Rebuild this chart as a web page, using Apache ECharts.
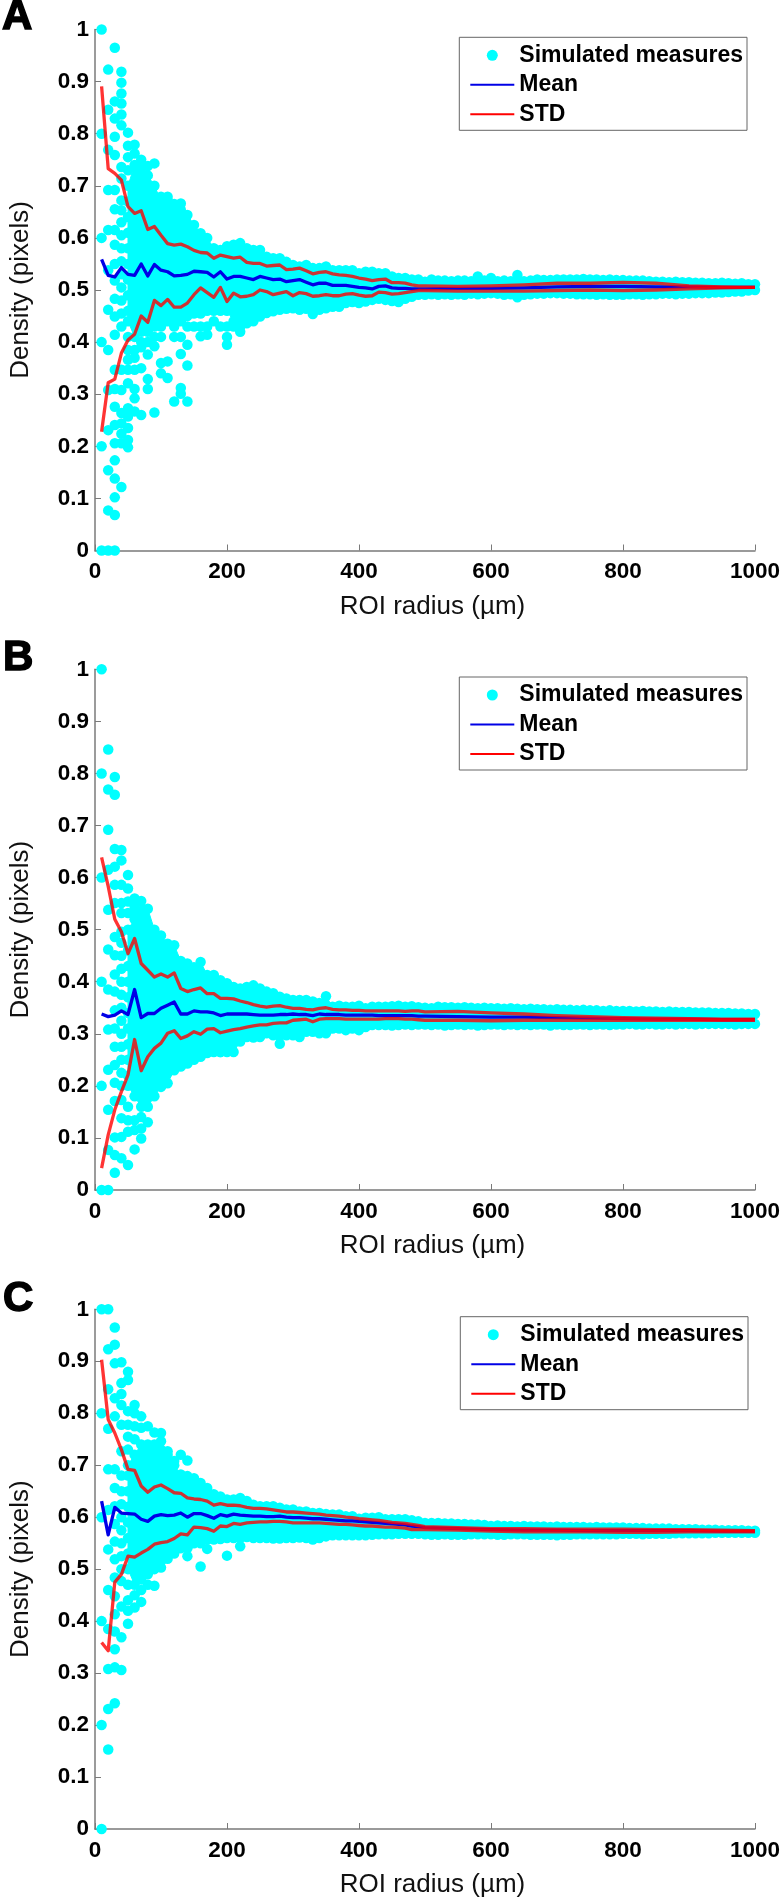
<!DOCTYPE html>
<html><head><meta charset="utf-8">
<style>html,body{margin:0;padding:0;background:#fff}#c{width:783px;height:1899px}</style>
<script src="https://cdn.jsdelivr.net/npm/echarts@6/dist/echarts.min.js"></script>
</head><body><div id="c"></div>
<script>
const xTicks=[0,200,400,600,800,1000];
const panelLetters=['A','B','C'];
const seriesNames=['Simulated measures','Mean','STD'];
// knots of the mean / STD curves
const lineRadii=[10,20,30,40,50,60,70,80,90,100,110,120,130,140,150,160,170,180,190,200,210,220,230,240,250,260,270,280,290,300,310,320,330,340,350,360,370,380,390,400,410,420,430,440,450,460,470,480,490,500,550,600,650,700,750,800,850,900,950,1000];
// columns of the dense cloud, 50..1000
const bandRadii=[50,60,70,80,90,100,110,120,130,140,150,160,170,180,190,200,210,220,230,240,250,260,270,280,290,300,310,320,330,340,350,360,370,380,390,400,410,420,430,440,450,460,470,480,490,500,510,520,530,540,550,560,570,580,590,600,610,620,630,640,650,660,670,680,690,700,710,720,730,740,750,760,770,780,790,800,810,820,830,840,850,860,870,880,890,900,910,920,930,940,950,960,970,980,990,1000];

const stdUpA=[.891,.733,.724,.711,.660,.647,.652,.616,.622,.605,.589,.586,.588,.583,.576,.572,.571,.561,.567,.564,.561,.563,.553,.551,.551,.546,.547,.548,.539,.540,.542,.537,.531,.534,.535,.531,.529,.528,.526,.523,.521,.518,.520,.521,.514,.514,.513,.510,.508,.508,.507,.508,.510,.513,.513,.5145,.513,.508,.506,.505];
const meanA=[.559,.528,.525,.543,.530,.528,.550,.527,.549,.538,.535,.527,.528,.530,.536,.535,.534,.525,.535,.521,.526,.526,.523,.520,.526,.523,.520,.521,.516,.518,.520,.515,.510,.513,.513,.509,.509,.509,.507,.505,.504,.502,.507,.508,.504,.503,.503,.502,.502,.502,.503,.503,.504,.506,.507,.507,.506,.506,.505,.505];
const stdLoA=[.228,.322,.329,.379,.404,.415,.450,.438,.480,.470,.482,.467,.467,.475,.491,.504,.495,.486,.505,.478,.494,.487,.488,.491,.500,.497,.491,.494,.497,.489,.495,.493,.488,.489,.491,.489,.489,.492,.493,.490,.488,.489,.496,.495,.492,.493,.495,.497,.499,.499,.498,.498,.498,.499,.500,.499,.500,.502,.504,.505];
const stdUpB=[.639,.583,.520,.496,.454,.483,.435,.422,.409,.415,.409,.417,.387,.381,.385,.388,.377,.377,.368,.368,.367,.363,.360,.356,.353,.351,.353,.354,.351,.349,.349,.347,.346,.349,.350,.347,.346,.346,.345,.345,.344,.344,.344,.344,.344,.344,.343,.344,.344,.342,.343,.340,.338,.335,.333,.331,.330,.329,.328,.328];
const meanB=[.338,.333,.336,.344,.337,.385,.331,.339,.339,.349,.355,.361,.338,.338,.344,.342,.342,.340,.335,.338,.338,.338,.338,.337,.336,.336,.336,.337,.337,.338,.337,.337,.335,.338,.337,.337,.337,.336,.336,.336,.336,.336,.335,.335,.335,.335,.335,.335,.334,.334,.333,.332,.332,.331,.330,.329,.328,.328,.327,.327];
const stdLoB=[.042,.106,.154,.189,.221,.289,.229,.256,.272,.282,.301,.306,.291,.296,.304,.299,.309,.310,.302,.305,.308,.310,.313,.315,.317,.317,.320,.321,.321,.326,.327,.328,.323,.328,.329,.329,.329,.328,.328,.328,.328,.328,.328,.329,.329,.329,.328,.328,.327,.326,.326,.325,.326,.326,.326,.326,.326,.326,.326,.326];
const stdUpC=[.903,.788,.762,.730,.692,.690,.660,.648,.658,.662,.655,.647,.646,.637,.635,.634,.631,.623,.626,.623,.623,.622,.619,.617,.617,.616,.614,.612,.610,.610,.609,.608,.607,.606,.604,.603,.602,.600,.599,.597,.596,.595,.594,.592,.590,.589,.588,.586,.584,.582,.580,.578,.578,.577,.577,.577,.576,.576,.575,.574];
const meanC=[.631,.566,.619,.608,.607,.606,.596,.592,.602,.605,.603,.604,.608,.600,.607,.607,.603,.598,.605,.602,.606,.604,.603,.602,.602,.601,.601,.602,.600,.599,.599,.598,.597,.597,.596,.595,.594,.593,.593,.592,.591,.590,.589,.588,.587,.586,.585,.583,.582,.580,.578,.576,.575,.575,.574,.574,.574,.574,.573,.573];
const stdLoC=[.359,.343,.475,.490,.525,.523,.531,.538,.548,.551,.553,.559,.568,.566,.581,.580,.578,.573,.583,.582,.588,.586,.589,.590,.591,.591,.592,.592,.591,.589,.589,.589,.589,.589,.588,.587,.586,.586,.585,.584,.583,.583,.582,.581,.581,.580,.579,.576,.576,.576,.575,.573,.572,.572,.572,.571,.571,.572,.572,.572];

// outer edges of the dense cloud at each bandRadii column
const cloudTopA=[.70,.74,.75,.72,.70,.672,.672,.655,.654,.644,.625,.609,.600,.580,.577,.584,.587,.590,.580,.577,.577,.564,.561,.561,.554,.548,.545,.548,.542,.542,.545,.538,.538,.538,.538,.532,.535,.535,.532,.532,.526,.523,.523,.520,.520,.516,.520,.518,.518,.517,.518,.518,.517,.526,.518,.523,.517,.518,.517,.529,.517,.518,.520,.519,.519,.520,.520,.520,.520,.521,.520,.520,.519,.520,.519,.519,.518,.518,.518,.517,.516,.516,.515,.516,.515,.515,.514,.514,.513,.513,.514,.513,.512,.513,.511,.511];
const cloudBotA=[.44,.41,.42,.42,.43,.43,.44,.43,.44,.45,.455,.455,.46,.46,.46,.46,.44,.43,.436,.44,.449,.456,.459,.462,.464,.465,.462,.464,.454,.462,.465,.468,.468,.475,.477,.475,.478,.481,.483,.481,.479,.477,.483,.487,.491,.491,.492,.491,.492,.491,.492,.491,.493,.492,.493,.494,.493,.491,.492,.486,.491,.492,.493,.493,.494,.494,.493,.493,.492,.492,.492,.491,.492,.491,.491,.491,.492,.492,.491,.492,.492,.493,.493,.492,.493,.493,.494,.494,.494,.495,.495,.496,.497,.497,.499,.500];
const cloudTopB=[.50,.52,.555,.54,.50,.489,.473,.47,.44,.435,.428,.438,.413,.413,.403,.397,.39,.387,.39,.393,.387,.381,.378,.371,.368,.365,.365,.365,.362,.359,.372,.352,.354,.352,.352,.354,.349,.352,.352,.352,.353,.354,.352,.353,.351,.35,.349,.352,.351,.351,.35,.351,.35,.349,.35,.349,.349,.348,.349,.348,.347,.348,.347,.347,.346,.347,.346,.346,.345,.346,.345,.345,.344,.345,.344,.344,.344,.343,.344,.343,.343,.342,.343,.342,.342,.342,.341,.341,.341,.34,.34,.34,.339,.339,.338,.338];
const cloudBotB=[.20,.18,.16,.16,.18,.198,.205,.23,.237,.243,.25,.256,.269,.275,.265,.265,.265,.285,.294,.293,.294,.301,.297,.281,.297,.297,.294,.304,.304,.301,.301,.31,.31,.307,.31,.307,.313,.317,.317,.317,.316,.317,.318,.317,.318,.318,.317,.318,.316,.317,.318,.317,.318,.316,.317,.318,.318,.317,.318,.317,.318,.317,.318,.318,.316,.318,.317,.317,.318,.318,.317,.318,.318,.317,.318,.318,.319,.318,.318,.319,.318,.318,.319,.318,.319,.319,.318,.319,.319,.319,.319,.319,.318,.319,.319,.319];
const cloudTopC=[.70,.72,.74,.74,.74,.73,.72,.70,.682,.679,.675,.666,.656,.644,.640,.634,.634,.637,.631,.624,.621,.621,.621,.618,.615,.615,.611,.611,.608,.608,.606,.605,.605,.602,.602,.597,.599,.599,.600,.596,.596,.596,.596,.594,.592,.589,.589,.589,.588,.588,.587,.587,.586,.586,.585,.583,.584,.583,.583,.582,.583,.582,.582,.582,.581,.582,.581,.581,.581,.581,.580,.581,.580,.580,.580,.580,.579,.579,.579,.578,.578,.578,.578,.577,.577,.577,.577,.576,.576,.576,.575,.575,.575,.575,.574,.574];
const cloudBotC=[.50,.47,.48,.49,.50,.515,.52,.53,.54,.54,.55,.55,.557,.557,.558,.56,.56,.56,.562,.56,.56,.56,.559,.559,.56,.56,.561,.56,.557,.56,.563,.565,.565,.565,.565,.565,.565,.566,.567,.567,.567,.568,.568,.568,.568,.567,.566,.566,.567,.566,.566,.566,.567,.567,.567,.567,.566,.566,.567,.567,.567,.566,.566,.566,.566,.565,.566,.566,.567,.567,.567,.567,.567,.567,.567,.568,.568,.568,.567,.568,.568,.568,.568,.569,.569,.569,.569,.569,.569,.570,.570,.570,.570,.570,.570,.570];

// individually visible measures: [radius, [densities]]
const pointsA=[
[10,[0,.2,.4,.6,.8,1]],
[20,[0,.077,.154,.231,.308,.385,.462,.538,.615,.692,.769,.846,.923]],
[30,[0,.068,.102,.138,.173,.206,.241,.276,.31,.347,.414,.449,.483,.518,.55,.587,.615,.655,.692,.759,.794,.829,.862,.965]],
[40,[.122,.206,.224,.244,.264,.308,.347,.43,.455,.48,.505,.53,.555,.58,.605,.63,.653,.672,.714,.736,.816,.837,.858,.877,.898,.919]],
[50,[.198,.212,.235,.257,.273,.321,.347,.366,.385,.41,.46,.49,.52,.55,.58,.61,.64,.67,.73,.755,.777,.802]],
[60,[.267,.292,.31,.347,.37,.385,.779,.762]],
[70,[.26,.35,.39,.40]],
[80,[.31,.329,.376,.40,.738]],
[90,[.265,.392,.41,.743]],
[100,[.34,.36,.41,.679]],
[110,[.331,.363,.679]],
[120,[.286,.41,.665]],
[130,[.301,.312,.377,.41,.666]],
[140,[.286,.355,.395,.43]],
[150,[.43]],
[160,[.411,.43]],
[170,[.414,.43]],
[180,[.44]],
[190,[.43]],
[200,[.395,.41,.43]],
[210,[.43]],
[220,[.42]]
];
const pointsB=[
[10,[0,.2,.4,.6,.8,1]],
[20,[0,.077,.154,.231,.308,.385,.462,.538,.615,.692,.769,.846]],
[30,[.033,.067,.101,.171,.206,.24,.275,.31,.345,.381,.414,.451,.486,.551,.586,.621,.655,.759,.793]],
[40,[.061,.102,.138,.173,.2,.225,.25,.275,.3,.325,.35,.375,.4,.425,.45,.475,.496,.532,.551,.586,.633,.653]],
[50,[.048,.112,.134,.16,.22,.25,.28,.31,.34,.37,.40,.43,.46,.605,.579,.554,.532]],
[60,[.078,.115,.134,.56,.528,.544]],
[70,[.099,.118,.14]],
[80,[.13]],
[170,[.263]],
[180,[.265]],
[190,[.265]]
];
const pointsC=[
[10,[0,.2,.4,.6,.8,1]],
[20,[.153,.231,.308,.385,.46,.538,.614,.692,.77,.846,.923,1]],
[30,[.242,.311,.346,.38,.413,.448,.484,.519,.553,.587,.621,.656,.692,.794,.829,.896,.932,.965]],
[40,[.306,.369,.428,.477,.50,.525,.55,.575,.60,.625,.65,.68,.727,.778,.816,.837,.858,.898]],
[50,[.395,.42,.44,.47,.53,.56,.59,.62,.65,.68,.73,.755,.778,.804,.864,.88]],
[60,[.426,.45,.75,.775,.80,.816]],
[70,[.437,.46,.772,.794]],
[80,[.775,.47]],
[90,[.468,.763]],
[100,[.503,.746,.762]],
[110,[.727]],
[120,[.708]],
[130,[.72]],
[140,[.709,.525]],
[160,[.505]],
[170,[.539]],
[200,[.526]],
[220,[.544]]
];

const panels=[
 {top:29.5,height:521,legendTop:37.3,legendLeft:459.3,letter:[2,-4],up:stdUpA,mean:meanA,lo:stdLoA,cTop:cloudTopA,cBot:cloudBotA,pts:pointsA},
 {top:669.3,height:520.7,legendTop:677,legendLeft:459.3,letter:[3,637],up:stdUpB,mean:meanB,lo:stdLoB,cTop:cloudTopB,cBot:cloudBotB,pts:pointsB},
 {top:1309.3,height:521,legendTop:1316.7,legendLeft:460.3,letter:[3,1278],up:stdUpC,mean:meanC,lo:stdLoC,cTop:cloudTopC,cBot:cloudBotC,pts:pointsC}
];
const FONT='"Liberation Sans",Arial,sans-serif';
const CYAN='#00ffff',BLUE='#0000e6',RED='#ff0000',AXIS='#7a7a7a';
const zip=a=>lineRadii.map((r,i)=>[r,a[i]]);
const grid=[],xAxis=[],yAxis=[],series=[],legend=[],title=[];
panels.forEach((p,i)=>{
 grid.push({left:95,width:660,top:p.top,height:p.height,containLabel:false});
 xAxis.push({gridIndex:i,type:'value',min:xTicks[0],max:xTicks[xTicks.length-1],interval:xTicks[1]-xTicks[0],
   name:'ROI radius (µm)',nameLocation:'middle',nameGap:43,nameTextStyle:{fontFamily:FONT,fontSize:26,color:'#111',padding:[0,0,0,15]},
   axisLine:{show:true,onZero:false,lineStyle:{color:AXIS,width:1.5}},axisTick:{show:true,inside:true,length:6,lineStyle:{color:AXIS,width:1}},
   axisLabel:{formatter:v=>String(v),fontFamily:FONT,fontSize:22.5,fontWeight:'bold',color:'#000',margin:10,showMinLabel:true,showMaxLabel:true},splitLine:{show:false}});
 yAxis.push({gridIndex:i,type:'value',min:0,max:1,interval:.1,
   name:'Density (pixels)',nameLocation:'middle',nameGap:61,nameTextStyle:{fontFamily:FONT,fontSize:26,color:'#111'},
   axisLine:{show:true,onZero:false,lineStyle:{color:AXIS,width:1.5}},axisTick:{show:true,inside:true,length:6,lineStyle:{color:AXIS,width:1}},
   axisLabel:{fontFamily:FONT,fontSize:22.5,fontWeight:'bold',color:'#000',margin:6},splitLine:{show:false}});
 const bandData=bandRadii.map((r,k)=>[r,p.cBot[k],p.cTop[k]]);
 series.push({type:'custom',silent:true,xAxisIndex:i,yAxisIndex:i,clip:false,z:2,encode:{x:0,y:1},data:bandData,
   renderItem:(params,api)=>{
     if(params.dataIndex!==0) return null;
     const pts=bandData.map(d=>api.coord([d[0],d[2]])).concat(bandData.slice().reverse().map(d=>api.coord([d[0],d[1]])));
     return {type:'polygon',shape:{points:pts},style:{fill:CYAN,stroke:CYAN}};
   }});
 const scat=[];
 p.pts.forEach(([r,vals])=>vals.forEach(v=>scat.push([r,v])));
 bandRadii.forEach((r,k)=>{scat.push([r,p.cTop[k]]);scat.push([r,p.cBot[k]]);});
 series.push({type:'scatter',name:seriesNames[0],xAxisIndex:i,yAxisIndex:i,clip:false,z:3,symbol:'circle',symbolSize:10.5,itemStyle:{color:CYAN,opacity:1},data:scat,large:false});
 const line=(name,arr,color,z,op)=>({type:'line',name,xAxisIndex:i,yAxisIndex:i,z,symbol:'none',showSymbol:false,clip:false,smooth:false,
   lineStyle:{color,width:3.3,opacity:op,join:'round'},itemStyle:{color},data:zip(arr)});
 series.push(line(seriesNames[1],p.mean,BLUE,4,1));
 series.push(line(seriesNames[2],p.up,RED,5,.8));
 series.push(line(seriesNames[2],p.lo,RED,5,.8));
 legend.push({show:true,orient:'vertical',left:p.legendLeft,top:p.legendTop,
   data:[{name:seriesNames[0]},{name:seriesNames[1],itemStyle:{opacity:0}},{name:seriesNames[2],itemStyle:{opacity:0}}],
   itemWidth:44,itemHeight:11,itemGap:6.5,padding:[6.5,4,4.5,10],align:'left',selectedMode:false,
   backgroundColor:'#fff',borderColor:'#666',borderWidth:1,
   textStyle:{fontFamily:FONT,fontSize:23,fontWeight:'bold',color:'#000'},lineStyle:{opacity:1}});
 title.push({text:panelLetters[i],left:p.letter[0],top:p.letter[1],padding:0,
   textStyle:{fontFamily:FONT,fontSize:42,fontWeight:'bold',color:'#000',textBorderColor:'#000',textBorderWidth:1.5}});
});
const chart=echarts.init(document.getElementById('c'),null,{renderer:'canvas'});
chart.setOption({animation:false,backgroundColor:'#fff',title,grid,xAxis,yAxis,legend,series});
</script></body></html>
